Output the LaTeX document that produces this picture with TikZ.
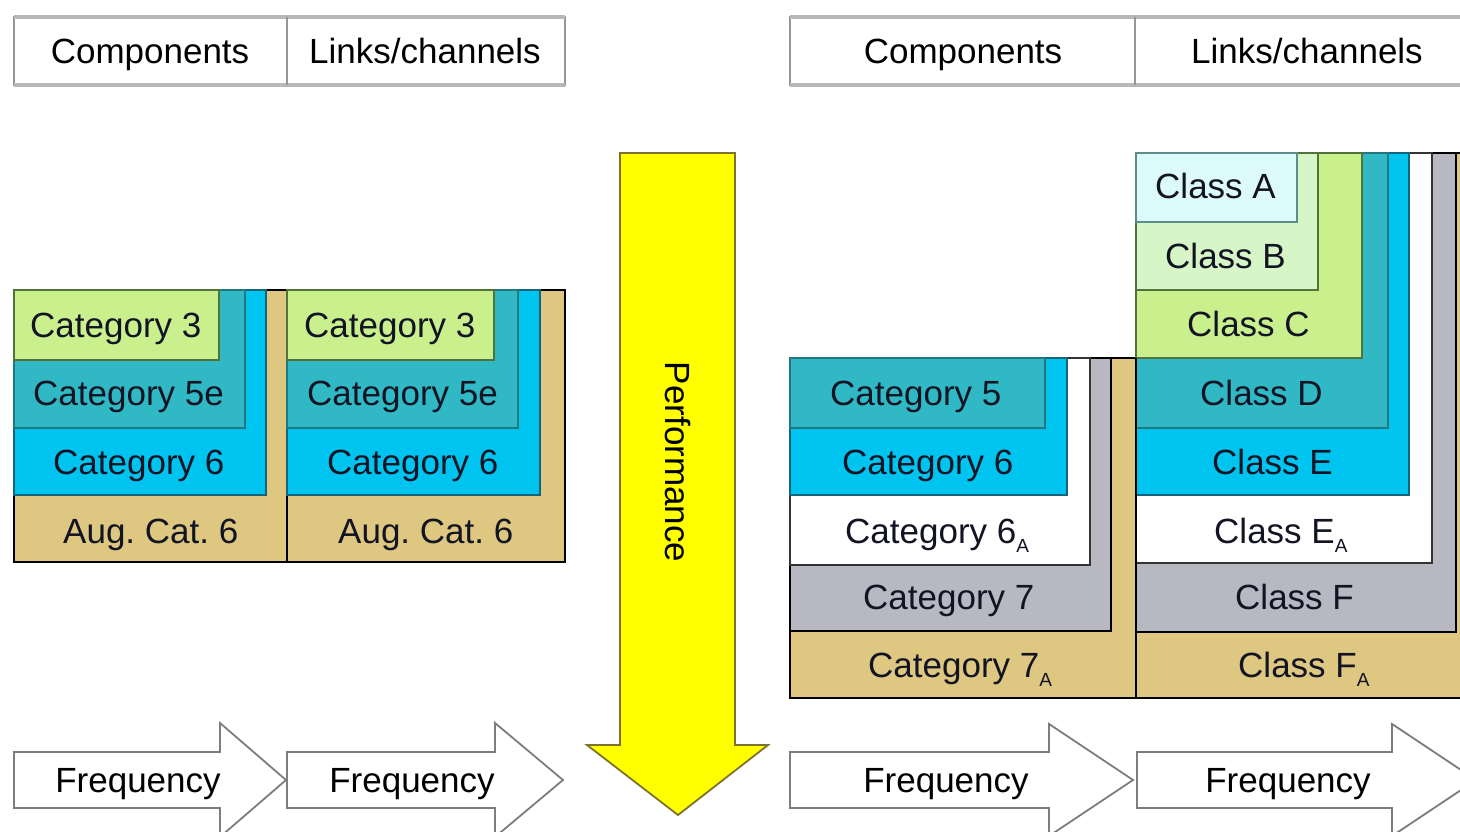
\documentclass[tikz,border=0pt]{standalone}
\usepackage{fontspec}
\setmainfont{Liberation Sans}
\frenchspacing
\definecolor{tanc}{RGB}{222,199,128}
\definecolor{bluec}{RGB}{0,196,240}
\definecolor{tealc}{RGB}{48,184,196}
\definecolor{greenc}{RGB}{202,240,142}
\definecolor{paleg}{RGB}{214,246,200}
\definecolor{palec}{RGB}{220,250,250}
\definecolor{grayc}{RGB}{184,184,195}
\definecolor{txt}{RGB}{18,20,36}
\definecolor{blueb}{RGB}{20,100,125}
\definecolor{tealb}{RGB}{35,120,128}
\definecolor{greenb}{RGB}{80,115,60}
\definecolor{palecb}{RGB}{95,140,140}
\definecolor{hdrb}{RGB}{150,150,150}
\definecolor{arrb}{RGB}{125,125,125}
\definecolor{yelb}{RGB}{125,115,45}
\definecolor{yelc}{RGB}{255,255,0}
\newcommand{\subA}{\raisebox{-0.28em}{\fontsize{19}{19}\selectfont A}}
\tikzset{
  lbl/.style={font=\fontsize{35}{40}\selectfont, inner sep=0pt, text=txt, anchor=base west},
  clbl/.style={font=\fontsize{35}{40}\selectfont, inner sep=0pt, text=black, anchor=base},
  tanbox/.style={fill=tanc, draw=black, line width=2.6pt},
  graybox/.style={fill=grayc, draw=black, line width=2.2pt},
  whitebox/.style={fill=white, draw=black!80, line width=1.8pt},
  bluebox/.style={fill=bluec, draw=blueb, line width=1.8pt},
  tealbox/.style={fill=tealc, draw=tealb, line width=1.8pt},
  greenbox/.style={fill=greenc, draw=greenb, line width=1.8pt},
  palegbox/.style={fill=paleg, draw=greenb, line width=1.8pt},
  palecbox/.style={fill=palec, draw=palecb, line width=1.8pt},
  hdr/.style={fill=white, draw=hdrb, line width=1.6pt},
  hdrline/.style={draw=black!28, line width=3.5pt},
  freq/.style={fill=white, draw=arrb, line width=1.8pt, line join=miter},
}
\begin{document}
\begin{tikzpicture}[x=1pt,y=-1pt]
\useasboundingbox (0,0) rectangle (1460,832);
\fill[white] (0,0) rectangle (1460,832);

% ---------- headers ----------
\path[hdr] (14,17) rectangle (565,85);
\draw[hdrline] (14,17) -- (565,17) (14,85) -- (565,85);
\draw[hdrb, line width=1.6pt] (287,17) -- (287,85);
\node[clbl] (h1) at (150,64) {Components};
\node[clbl] (h2) at (425,64) {Links/channels};

\path[hdr] (790,17) rectangle (1475,85);
\draw[hdrline] (790,17) -- (1475,17) (790,85) -- (1475,85);
\draw[hdrb, line width=1.6pt] (1135,17) -- (1135,85);
\node[clbl] (h3) at (963,64) {Components};
\node[clbl] (h4) at (1307,64) {Links/channels};

% ---------- stack 1 ----------
\path[tanbox] (14,290) rectangle (287,562);
\path[bluebox] (14,290) rectangle (266,495);
\path[tealbox] (14,290) rectangle (245,428);
\path[greenbox] (14,290) rectangle (219,360);
\node[lbl] (s1a) at (30,337) {Category 3};
\node[lbl] (s1b) at (33,405) {Category 5e};
\node[lbl] (s1c) at (53,474) {Category 6};
\node[lbl] (s1d) at (63,543) {Aug. Cat. 6};

% ---------- stack 2 ----------
\path[tanbox] (287,290) rectangle (565,562);
\path[bluebox] (287,290) rectangle (540,495);
\path[tealbox] (287,290) rectangle (518,428);
\path[greenbox] (287,290) rectangle (494,360);
\node[lbl] (s2a) at (304,337) {Category 3};
\node[lbl] (s2b) at (307,405) {Category 5e};
\node[lbl] (s2c) at (327,474) {Category 6};
\node[lbl] (s2d) at (338,543) {Aug. Cat. 6};

% ---------- performance arrow ----------
\path[fill=yelc, draw=yelb, line width=1.8pt, line join=miter]
  (620,153) -- (735,153) -- (735,745) -- (768,745) -- (678,815)
  -- (587,745) -- (620,745) -- cycle;
\node[font=\fontsize{35}{40}\selectfont, inner sep=0pt, text=black, rotate=-90] (perf) at (678,462) {Performance};

% ---------- stack 3 ----------
\path[tanbox] (790,358) rectangle (1136,698);
\path[graybox] (790,358) rectangle (1111,631);
\path[whitebox] (790,358) rectangle (1090,565);
\path[bluebox] (790,358) rectangle (1067,495);
\path[tealbox] (790,358) rectangle (1045,428);
\node[lbl] (s3a) at (830,405) {Category 5};
\node[lbl] (s3b) at (842,474) {Category 6};
\node[lbl] (s3c) at (845,543) {Category 6\subA};
\node[lbl] (s3d) at (863,609) {Category 7};
\node[lbl] (s3e) at (868,677) {Category 7\subA};

% ---------- stack 4 ----------
\path[tanbox] (1136,153) rectangle (1485,698);
\path[graybox] (1136,153) rectangle (1456,632);
\path[whitebox] (1136,153) rectangle (1432,563);
\path[bluebox] (1136,153) rectangle (1409,495);
\path[tealbox] (1136,153) rectangle (1388,428);
\path[greenbox] (1136,153) rectangle (1362,358);
\path[palegbox] (1136,153) rectangle (1318,290);
\path[palecbox] (1136,153) rectangle (1297,222);
\draw[black, line width=2.6pt] (1136,358) -- (1136,698);
\node[lbl] (s4a) at (1155,199) {Class A};
\node[lbl] (s4b) at (1165,268) {Class B};
\node[lbl] (s4c) at (1187,336) {Class C};
\node[lbl] (s4d) at (1200,405) {Class D};
\node[lbl] (s4e) at (1212,474) {Class E};
\node[lbl] (s4f) at (1214,543) {Class E\subA};
\node[lbl] (s4g) at (1235,609) {Class F};
\node[lbl] (s4h) at (1238,677) {Class F\subA};

% ---------- frequency arrows ----------
\path[freq] (14,752) -- (220,752) -- (220,723) -- (286,780) -- (220,837) -- (220,808) -- (14,808) -- cycle;
\path[freq] (287,752) -- (495,752) -- (495,723) -- (563,780) -- (495,837) -- (495,808) -- (287,808) -- cycle;
\path[freq] (790,752) -- (1049,752) -- (1049,724) -- (1133,780) -- (1049,836) -- (1049,808) -- (790,808) -- cycle;
\path[freq] (1137,752) -- (1392,752) -- (1392,724) -- (1476,780) -- (1392,836) -- (1392,808) -- (1137,808) -- cycle;
\node[clbl] (f1) at (138,792) {Frequency};
\node[clbl] (f2) at (412,792) {Frequency};
\node[clbl] (f3) at (946,792) {Frequency};
\node[clbl] (f4) at (1288,792) {Frequency};
\end{tikzpicture}
\end{document}
